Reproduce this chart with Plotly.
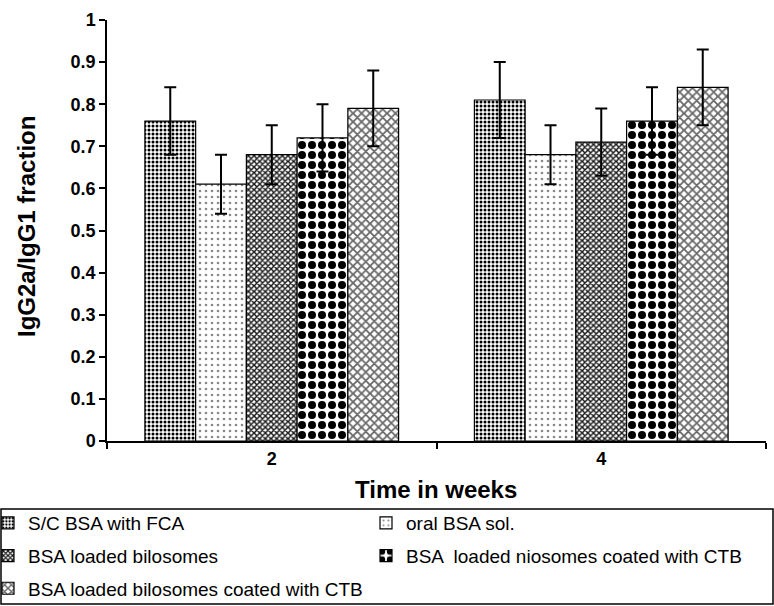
import plotly.graph_objects as go

categories = ["2", "4"]
series_names = [
    "S/C BSA with FCA",
    "oral BSA sol.",
    "BSA loaded bilosomes",
    "BSA  loaded niosomes coated with CTB",
    "BSA loaded bilosomes coated with CTB",
]
sc_fca = [0.76, 0.81]
oral_sol = [0.61, 0.68]
bilosomes = [0.68, 0.71]
niosomes_ctb = [0.72, 0.76]
bilosomes_ctb = [0.79, 0.84]
values = [sc_fca, oral_sol, bilosomes, niosomes_ctb, bilosomes_ctb]

err_sc_fca = [0.08, 0.09]
err_oral_sol = [0.07, 0.07]
err_bilosomes = [0.07, 0.08]
err_niosomes_ctb = [0.08, 0.08]
err_bilosomes_ctb = [0.09, 0.09]
errors = [err_sc_fca, err_oral_sol, err_bilosomes, err_niosomes_ctb, err_bilosomes_ctb]

y_ticks = [round(i * 0.1, 1) for i in range(11)]
x_title = "Time in weeks"
y_title = "IgG2a/IgG1 fraction"

patterns = [
    dict(shape=".", size=4, solidity=0.45, fgcolor="#000000"),
    dict(shape=".", size=6, solidity=0.15, fgcolor="#888888"),
    dict(shape="x", size=4, solidity=0.6, fgcolor="#1a1a1a"),
    dict(shape=".", size=10, solidity=0.5, fgcolor="#000000"),
    dict(shape="x", size=6, solidity=0.5, fgcolor="#666666"),
]
legend_ids = ["legend", "legend2", "legend", "legend2", "legend"]

W, H = 774, 606
ml, mr, mt, mb = 107, 8, 20, 165
pw = W - ml - mr
ph = H - mt - mb
FONT = "Liberation Sans, Arial, sans-serif"

fig = go.Figure()
for i, (name, vals, errs, pat) in enumerate(zip(series_names, values, errors, patterns)):
    p = dict(pat)
    p.update(bgcolor="white", fillmode="replace")
    fig.add_trace(go.Bar(
        x=categories, y=vals, name=name,
        legend=legend_ids[i], legendgroup=f"g{i}",
        marker=dict(color="white", pattern=p, line=dict(color="black", width=1.2)),
        error_y=dict(type="data", array=errs, visible=True, color="black",
                     thickness=2, width=6),
    ))

def px_x(p):
    return (p - ml) / pw

def px_y(p):
    return (H - mb - p) / ph

fig.add_shape(type="rect", xref="paper", yref="paper",
              x0=px_x(1), x1=px_x(773), y0=px_y(604), y1=px_y(509),
              line=dict(color="black", width=1.5), fillcolor="rgba(0,0,0,0)")

fig.add_annotation(text=f"<b>{y_title}</b>", xref="paper", yref="paper",
                   x=px_x(26), y=px_y(227), xanchor="center", yanchor="middle",
                   textangle=-90, showarrow=False, font=dict(size=24, family=FONT))
fig.add_annotation(text=f"<b>{x_title}</b>", xref="paper", yref="paper",
                   x=px_x(436), y=px_y(489), xanchor="center", yanchor="middle",
                   showarrow=False, font=dict(size=24, family=FONT))

leg_common = dict(
    orientation="v", xref="paper", yref="paper",
    xanchor="left", yanchor="top", y=px_y(504),
    font=dict(size=19, family=FONT),
    tracegroupgap=5, itemwidth=30, bgcolor="rgba(0,0,0,0)", borderwidth=0,
)

fig.update_layout(
    width=W, height=H,
    margin=dict(l=ml, r=mr, t=mt, b=mb, autoexpand=False),
    paper_bgcolor="white", plot_bgcolor="white",
    barmode="group", bargap=0.23, bargroupgap=0,
    font=dict(family=FONT, color="black"),
    showlegend=True,
    legend=dict(leg_common, x=px_x(-12)),
    legend2=dict(leg_common, x=px_x(366)),
    xaxis=dict(
        type="category", showline=True, linecolor="black", linewidth=2,
        ticks="outside", tickson="boundaries", ticklen=6, tickwidth=1.5, tickcolor="black",
        tickvals=categories, ticktext=[f"<b>{c}</b>" for c in categories],
        tickfont=dict(size=18, family=FONT),
        showgrid=False,
    ),
    yaxis=dict(
        range=[0, 1], tickvals=y_ticks, ticktext=[f"<b>{v:g}</b>" for v in y_ticks],
        showline=True, linecolor="black", linewidth=1.5,
        ticks="outside", ticklen=6, tickwidth=1.5, tickcolor="black",
        tickfont=dict(size=18, family=FONT),
        showgrid=False, zeroline=False,
    ),
)

fig.write_html("out.html")
